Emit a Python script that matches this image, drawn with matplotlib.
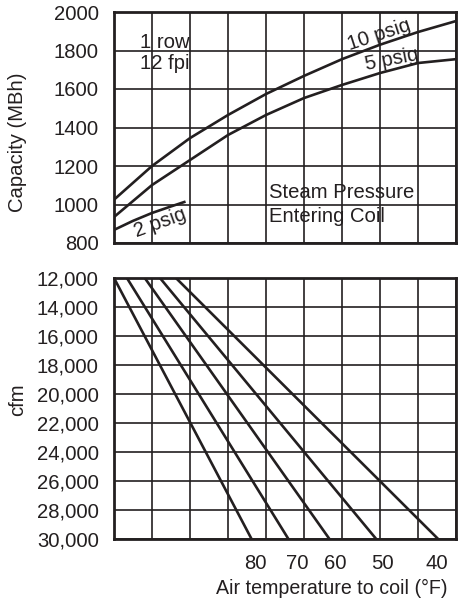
import matplotlib
matplotlib.use('Agg')

import matplotlib.pyplot as plt
import numpy as np

# top chart: capacity vs. grid position (x in grid columns, 0..9)
cap_x = [0, 1, 2, 3, 4, 5, 6, 7, 8, 9]
cap_10psig = [1025, 1200, 1345, 1465, 1574, 1668, 1755, 1830, 1896, 1953]
cap_5psig = [935, 1101, 1231, 1361, 1465, 1553, 1621, 1683, 1735, 1755]
cap2_x = [0, 0.5, 1, 1.5, 1.85]
cap_2psig = [868, 915, 956, 990, 1013]

cap_ticks = [800, 1000, 1200, 1400, 1600, 1800, 2000]

# bottom chart: cfm lines, one per entering air temperature
temps = [80, 70, 60, 50, 40]
line_start_x = [0, 0.34, 0.81, 1.21, 1.63]   # at 12,000 cfm
line_end_x = [3.62, 4.59, 5.67, 6.90, 8.53]  # at 30,000 cfm
temp_label_x = [3.72, 4.83, 5.83, 7.07, 8.50]
cfm_ticks = [12000, 14000, 16000, 18000, 20000, 22000, 24000, 26000, 28000, 30000]

ink = '#231f20'
fs = 14.6
plt.rcParams['font.family'] = ['Liberation Sans', 'DejaVu Sans']
plt.rcParams['font.size'] = fs
plt.rcParams['text.color'] = ink

W, H = 458, 606
fig = plt.figure(figsize=(W / 100, H / 100), dpi=100)

def frac_box(left, top, right, bottom):
    return [left / W, 1 - bottom / H, (right - left) / W, (bottom - top) / H]

ax1 = fig.add_axes(frac_box(114, 12, 456, 243))
ax2 = fig.add_axes(frac_box(114, 278, 456, 539))

for ax in (ax1, ax2):
    ax.set_xlim(0, 9)
    ax.set_xticks(np.arange(0, 10), minor=True)
    ax.grid(which='minor', axis='x', color=ink, lw=1.2)
    ax.grid(which='major', axis='y', color=ink, lw=1.2)
    ax.tick_params(which='both', length=0, pad=11, colors=ink, labelsize=fs)
    for s in ax.spines.values():
        s.set_linewidth(2.0)
        s.set_color(ink)
    ax.set_axisbelow(True)

# top panel
ax1.set_ylim(800, 2000)
ax1.set_yticks(cap_ticks)
ax1.set_xticks([])
ax1.plot(cap_x, cap_10psig, color=ink, lw=1.9)
ax1.plot(cap_x, cap_5psig, color=ink, lw=1.9)
ax1.plot(cap2_x, cap_2psig, color=ink, lw=1.9)

ax1.text(0.68, 1844, '1 row', ha='left', va='center')
ax1.text(0.68, 1735, '12 fpi', ha='left', va='center')
ax1.text(6.98, 1880, '10 psig', ha='center', va='center', rotation=18)
ax1.text(7.32, 1751, '5 psig', ha='center', va='center', rotation=11)
ax1.text(1.21, 904, '2 psig', ha='center', va='center', rotation=20)
ax1.text(4.09, 1060, 'Steam Pressure', ha='left', va='center')
ax1.text(4.09, 940, 'Entering Coil', ha='left', va='center')

# bottom panel
ax2.set_ylim(30000, 12000)
ax2.set_yticks(cfm_ticks)
ax2.set_yticklabels(['{:,}'.format(v) for v in cfm_ticks])
ax2.set_xticks(temp_label_x)
ax2.set_xticklabels([str(t) for t in temps])
for x0, x1 in zip(line_start_x, line_end_x):
    ax2.plot([x0, x1], [12000, 30000], color=ink, lw=1.9)

fig.text(18 / W, 1 - 142 / H, 'Capacity (MBh)', rotation=90,
         ha='center', va='center', fontsize=fs)
fig.text(18 / W, 1 - 400 / H, 'cfm', rotation=90,
         ha='center', va='center', fontsize=fs)
fig.text(448 / W, 1 - 588 / H, 'Air temperature to coil (°F)',
         ha='right', va='center', fontsize=14.1)

plt.savefig('out.png', dpi=100)
